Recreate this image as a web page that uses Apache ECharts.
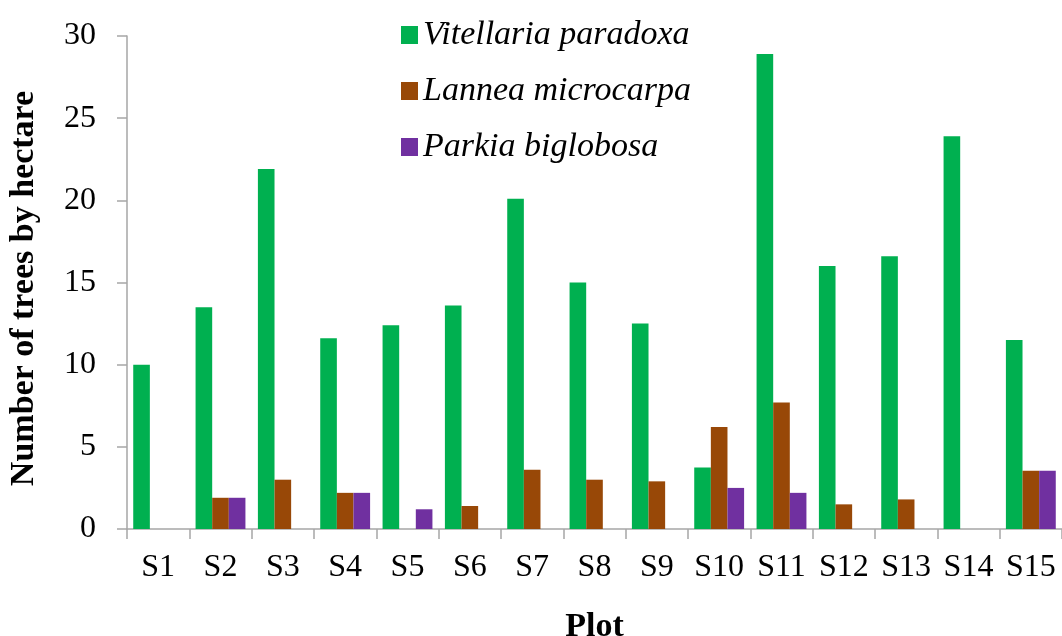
<!DOCTYPE html>
<html>
<head>
<meta charset="utf-8">
<script src="https://cdn.jsdelivr.net/npm/echarts@6/dist/echarts.min.js"></script>
<style>
html,body{margin:0;padding:0;background:#fff;}
#c{width:1062px;height:636px;}
</style>
</head>
<body>
<div id="c"></div>
<script>
const categories = ['S1','S2','S3','S4','S5','S6','S7','S8','S9','S10','S11','S12','S13','S14','S15'];
const vitellaria = [10, 13.5, 21.9, 11.6, 12.4, 13.6, 20.1, 15.0, 12.5, 3.75, 28.9, 16.0, 16.6, 23.9, 11.5];
const lannea     = [0, 1.9, 3.0, 2.2, 0, 1.4, 3.6, 3.0, 2.9, 6.2, 7.7, 1.5, 1.8, 0, 3.55];
const parkia     = [0, 1.9, 0, 2.2, 1.2, 0, 0, 0, 0, 2.5, 2.2, 0, 0, 0, 3.55];
const yTicks = [0, 5, 10, 15, 20, 25, 30];

const serif = '"Liberation Serif", "Times New Roman", serif';
const axisGray = '#A6A6A6';
const chart = echarts.init(document.getElementById('c'), null, {renderer:'canvas'});
const mk = (name, data, color) => ({
  name, type:'bar', data: data.map(v => v === 0 ? null : v),
  barGap: '0%', barCategoryGap: '20%',
  itemStyle:{color}
});
chart.setOption({
  animation:false,
  backgroundColor:'#fff',
  grid:{left:127, right:0, top:36, bottom:107, containLabel:false, outerBoundsMode:'none'},
  legend:{
    orient:'vertical', left:396, top:13, itemWidth:17, itemHeight:18, itemGap:22,
    icon:'rect',
    textStyle:{fontFamily:serif, fontStyle:'italic', fontSize:34, lineHeight:34, color:'#000'},
    data:['Vitellaria paradoxa','Lannea microcarpa','Parkia biglobosa']
  },
  xAxis:{
    type:'category', data:categories,
    name:'Plot', nameLocation:'middle', nameGap:81,
    nameTextStyle:{fontFamily:serif, fontWeight:'bold', fontSize:34, color:'#000'},
    axisLine:{lineStyle:{color:axisGray, width:1.5}},
    axisTick:{show:true, length:10, lineStyle:{color:axisGray, width:1.5}},
    axisLabel:{fontFamily:serif, fontSize:32, color:'#000', margin:23, interval:0}
  },
  yAxis:{
    type:'value', min:0, max:30, interval:5,
    name:'Number of trees by hectare', nameLocation:'middle', nameGap:86,
    nameTextStyle:{fontFamily:serif, fontWeight:'bold', fontSize:34, color:'#000', padding:[0,12,0,0]},
    axisLine:{show:true, lineStyle:{color:axisGray, width:1.5}},
    axisTick:{show:true, length:10, lineStyle:{color:axisGray, width:1.5}},
    splitLine:{show:false},
    axisLabel:{fontFamily:serif, fontSize:32, color:'#000', margin:31,
      formatter: v => yTicks.includes(v) ? String(v) : ''}
  },
  series:[
    mk('Vitellaria paradoxa', vitellaria, '#00B050'),
    mk('Lannea microcarpa', lannea, '#984807'),
    mk('Parkia biglobosa', parkia, '#7030A0')
  ]
});
</script>
</body>
</html>
